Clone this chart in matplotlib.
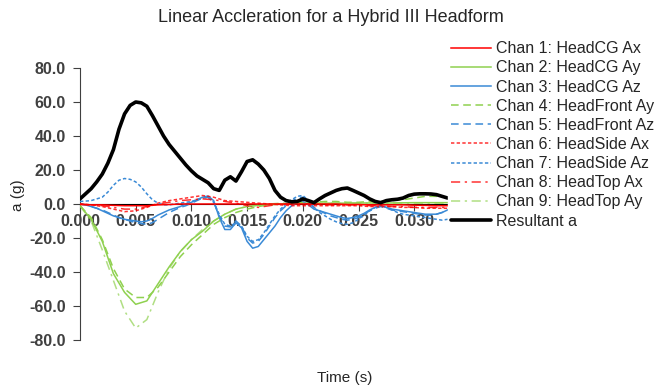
import numpy as np
import matplotlib.pyplot as plt

# time bases (ms): fine grid for resultant and Az channels, coarse for the rest
t_fine_ms = np.arange(0, 33.5, 0.5)
t_ms = np.arange(0, 34, 1.0)

resultant = [3, 6, 9, 13, 17.6, 24, 32, 44, 53, 58, 60, 59.5, 57.5, 52, 46, 40, 35,
             31, 27, 23, 19.5, 16.5, 14.5, 12.5, 9, 8, 14, 16, 13.5, 19, 25, 26, 23.5,
             20, 15, 8, 4, 2, 1.3, 1.5, 3, 2, 0.8, 3, 5, 6.5, 8, 9, 9.4, 8, 6.5, 5, 3,
             1.5, 0.8, 2, 2.5, 2.8, 3.5, 5, 5.8, 6, 6, 5.9, 5.5, 4.5, 3.5]

chan3_cg_az = [0, -0.5, -1.5, -2.5, -4, -5.5, -7, -8, -9, -9.5, -10, -10.5, -10, -8.5,
               -6.5, -5, -3.5, -2.5, -1.5, 0, 1, 2.5, 4, 4.7, 2, -8, -15, -15, -11, -14,
               -22, -26, -25, -21, -17, -13, -8, -4, -1, 0.5, 1.5, -0.5, -3, -4, -5, -6,
               -7, -8, -8.5, -8, -7, -5.5, -3.5, -2, -1, -2, -3, -3.5, -4, -4.5, -5,
               -5.5, -6, -6, -6, -5, -3.5]

chan5_front_az = [0, -0.5, -1.5, -2.5, -3.5, -5, -6.5, -8, -9, -10, -11, -11.5, -12, -11,
                  -9, -7, -5, -3.5, -2, -1, 0.5, 2, 3.5, 4, 1, -7, -13, -13.5, -10, -13,
                  -20, -23, -22, -18, -13, -8, -4, -1, 1.5, 3.5, 4, 1.5, -2, -4, -5.5, -7,
                  -8, -9, -9.5, -9, -8, -6, -4, -2.5, -1.5, -2.5, -3.5, -4, -4.5, -5,
                  -5.5, -6, -6.5, -6.5, -6, -5, -4]

chan7_side_az = [1.5, 1.7, 2, 3, 4, 7, 11, 14, 15, 14.5, 13, 10, 6, 2.5, 0.5, -0.5, -0.5,
                 0, 0.5, 1, 1.5, 2.5, 3.5, 4, 1, -6, -12, -13, -11, -13, -19, -22, -21,
                 -17, -12, -7, -3, 0, 2.5, 4.5, 5, 2, -2, -5, -7, -9, -10.5, -11.5, -12,
                 -11, -9, -6.5, -4, -2, -1, -2, -3.5, -5, -6, -6.5, -7, -7.5, -8, -8.5,
                 -9, -9.5, -9]

chan2_cg_ay = [-1, -9, -22, -41, -52, -59, -57, -47, -37, -28, -21, -16, -10, -6, -3, -1.5,
               -0.8, -0.3, 0, 0.3, 0.5, 0.5, 0.5, 0.5, 0.5, 0.6, 0.6, 0.6, 0.6, 0.7, 0.8,
               0.8, 0.8, 0.8]

chan4_front_ay = [-1, -8, -21, -38, -50, -55, -55, -49, -40, -31, -24, -18, -12, -8, -5, -3,
                  -1.5, -0.5, 0, 0.5, 1, 1, 1.5, 1.5, 1, 1, 1.5, 1.5, 2, 2.5, 3.5, 4.5,
                  4.5, 4]

chan9_top_ay = [-1, -10, -27, -45, -63, -73, -68, -52, -38, -28, -21, -15, -10, -6, -3, -1.5,
                -0.5, 0, 0.5, 0.5, 0.5, 0.5, 0.5, 0.5, 0.5, 0.5, 0.5, 0.5, 0.5, 0.5, 0.5,
                0.5, 0.5, 0.5]

chan1_cg_ax = [-0.3, -0.5, -0.5, -0.8, -1, -1, -1, -0.5, -0.3, 0, 0, 0, 0, 0, 0, 0, 0, 0, 0,
               0, 0, 0, 0, 0, -0.3, -0.3, -0.5, -0.5, -0.5, -0.5, -0.7, -0.8, -1, -1]

chan6_side_ax = [0, -0.5, -1.5, -3, -4.5, -4, -2, 0.5, 2, 3, 4, 5, 4, 2, 1.5, 1, 0.5, 0, -0.5,
                 -1, -1, -1, -1, -1, -1, -1, -1.5, -1.5, -1.5, -2, -2, -2.5, -2.5, -2.5]

chan8_top_ax = [0, -0.5, -1, -2, -3, -3, -1.5, 0, 1, 2, 2.5, 3, 2.5, 1.5, 0.5, -1, -2, -1, 0,
                0, 0, 0, -0.5, -0.5, -0.5, -0.5, -1, -1, -1.5, -1.5, -2, -2, -2, -2]

t_fine = t_fine_ms / 1000.0
t = t_ms / 1000.0

RED = '#ff0000'
GREEN = '#8fd14f'
BLUE = '#3a8ad6'

plt.rcParams['font.family'] = ['Liberation Sans', 'DejaVu Sans']

fig = plt.figure(figsize=(6.59, 3.87), dpi=100)
ax = fig.add_axes([80 / 659, 47 / 387, 557 / 659, 272 / 387])

lw = 1.1
ax.plot(t, chan1_cg_ax, color=RED, lw=lw, label='Chan 1: HeadCG Ax', zorder=4)
ax.plot(t, chan2_cg_ay, color=GREEN, lw=lw, label='Chan 2: HeadCG Ay', zorder=3)
ax.plot(t_fine, chan3_cg_az, color=BLUE, lw=lw, label='Chan 3: HeadCG Az', zorder=3)
ax.plot(t, chan4_front_ay, color=GREEN, lw=lw, ls=(0, (5, 3)),
        label='Chan 4: HeadFront Ay', zorder=3)
ax.plot(t_fine, chan5_front_az, color=BLUE, lw=lw, ls=(0, (5, 3)),
        label='Chan 5: HeadFront Az', zorder=3)
ax.plot(t, chan6_side_ax, color=RED, lw=lw, ls=(0, (2.2, 1.5)), alpha=0.8,
        label='Chan 6: HeadSide Ax', zorder=3)
ax.plot(t_fine, chan7_side_az, color=BLUE, lw=lw, ls=(0, (2.2, 1.5)),
        label='Chan 7: HeadSide Az', zorder=3)
ax.plot(t, chan8_top_ax, color=RED, lw=lw, ls=(0, (6, 3, 1.5, 3)), alpha=0.8,
        label='Chan 8: HeadTop Ax', zorder=3)
ax.plot(t, chan9_top_ay, color=GREEN, lw=lw, ls=(0, (6, 3, 1.5, 3)), alpha=0.7,
        label='Chan 9: HeadTop Ay', zorder=3)
ax.plot(t_fine, resultant, color='black', lw=2.6, label='Resultant a', zorder=4,
        solid_capstyle='round', solid_joinstyle='round')

ax.set_xlim(0, 0.05)
ax.set_ylim(-80, 80)
ax.set_xticks(np.arange(0, 0.0501, 0.005))
ax.set_xticklabels(['%.3f' % v for v in np.arange(0, 0.0501, 0.005)])
ax.set_yticks(np.arange(-80, 81, 20))
ax.set_yticklabels(['%.1f' % v for v in np.arange(-80, 81, 20)])

for s in ['top', 'right']:
    ax.spines[s].set_visible(False)
ax.spines['bottom'].set_position(('data', 0))
ax.spines['bottom'].set_color('black')
ax.spines['left'].set_color('#404040')
ax.tick_params(axis='both', direction='out', length=5, width=0.8, colors='#404040',
               labelsize=11.5)
ax.tick_params(axis='x', pad=2)
ax.tick_params(axis='y', pad=5)
for lab in ax.get_xticklabels() + ax.get_yticklabels():
    lab.set_fontweight('bold')
    lab.set_color('#404040')

fig.text(331 / 659, 1 - 18 / 387, 'Linear Accleration for a Hybrid III Headform',
         ha='center', va='center', fontsize=13, color='#262626')
fig.text(18 / 659, 1 - 195 / 387, 'a (g)', rotation=90, ha='center', va='center',
         fontsize=11, color='#262626')
fig.text(345 / 659, 1 - 378 / 387, 'Time (s)', ha='center', va='center',
         fontsize=11, color='#262626')

leg = ax.legend(loc='upper left', bbox_to_anchor=(448 / 659, 1 - 38 / 387),
                bbox_transform=fig.transFigure, frameon=True, fancybox=False,
                edgecolor='white', facecolor='white', framealpha=1,
                fontsize=11.5, handlelength=2.5, handletextpad=0.3,
                labelspacing=0.26, borderpad=0.2, borderaxespad=0)
for txt in leg.get_texts():
    txt.set_color('#262626')

fig.savefig('out.png', dpi=100)
